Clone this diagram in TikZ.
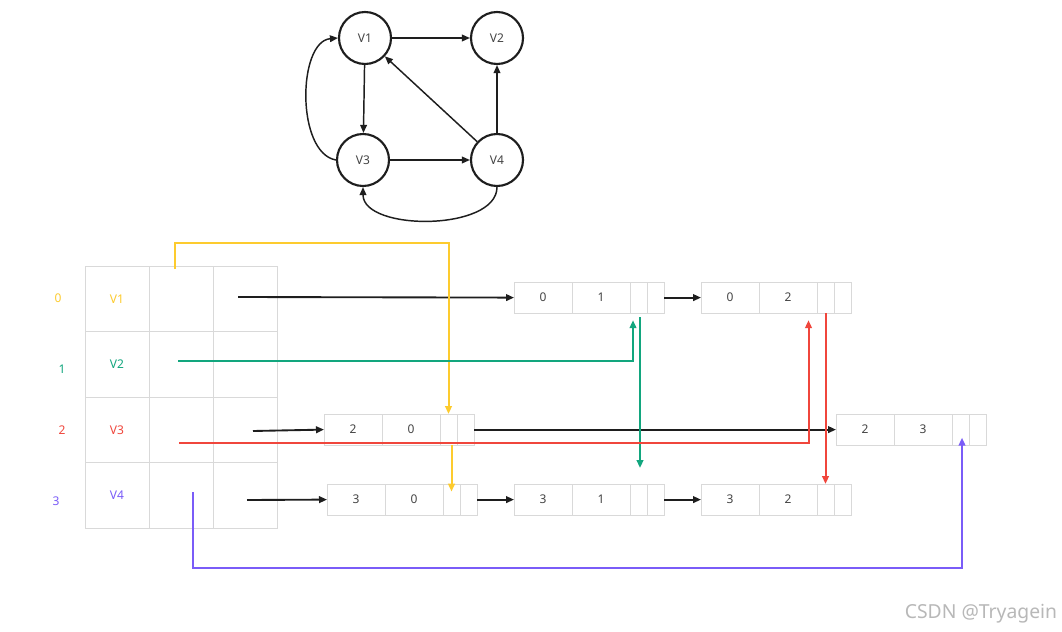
\documentclass[tikz,border=0pt]{standalone}
\usepackage{fontspec}
\setmainfont{Noto Sans}
\usepackage{xcolor}
\definecolor{adjInk}{HTML}{1E1E1E}
\definecolor{adjText}{HTML}{444444}
\definecolor{adjGrid}{HTML}{D9D9D9}
\definecolor{adjYellow}{HTML}{FDCB2E}
\definecolor{adjGreen}{HTML}{12A67E}
\definecolor{adjRed}{HTML}{F0463C}
\definecolor{adjPurple}{HTML}{7A5CF8}
\usetikzlibrary{calc,arrows.meta,positioning}

% one entry of an adjacency list: two data cells and two pointer cells
\newcommand{\adjentry}[5]{%
  \node[lcell, anchor=north west] (#1-a) at (#2,#3) {#4};
  \node[lcell, right=0pt of #1-a] (#1-b) {#5};
  \node[lptr, right=0pt of #1-b] (#1-p) {};
  \node[lptr, right=0pt of #1-p] (#1-q) {};
}

\begin{document}
\begin{tikzpicture}[x=0.75pt, y=-0.75pt,
    vert/.style={circle, draw=adjInk, line width=1.6pt, minimum size=39pt, inner sep=0pt, font=\fontsize{9}{11}\selectfont, text=adjText},
    edge/.style={-{Triangle[length=6pt,width=5pt]}, line width=1.1pt, adjInk},
    tcell/.style={draw=adjGrid, line width=0.7pt, minimum width=48pt, minimum height=49.1pt, inner sep=0pt, outer sep=0pt, font=\fontsize{9}{11}\selectfont, anchor=north west},
    lcell/.style={draw=adjGrid, line width=0.7pt, minimum width=43.5pt, minimum height=23.4pt, inner sep=0pt, outer sep=0pt, font=\fontsize{9}{11}\selectfont, text=adjText},
    lptr/.style={lcell, minimum width=12.75pt},
    idx/.style={font=\fontsize{9}{11}\selectfont, text=#1},
    arr/.style={-{Triangle[length=6pt,width=5pt]}, line width=1.4pt, adjInk},
    link/.style={-{Triangle[length=6pt,width=5pt]}, line width=1.5pt, color=#1}
  ]
    \useasboundingbox[fill=white] (0,0) rectangle (1062,631);

    % the directed graph
    \node[vert] (v1) at (365,38) {V1};
    \node[vert] (v2) at (497,38) {V2};
    \node[vert] (v3) at (363,160) {V3};
    \node[vert] (v4) at (497,160) {V4};
    \draw[edge] (v1) -- (v2);
    \draw[edge] (v1) -- (v3);
    \draw[edge] (v3) -- (v4);
    \draw[edge] (v4) -- (v2);
    \draw[edge] (v4) -- (v1);
    \draw[edge] (v3.west) to[out=170, in=185, looseness=0.85] (v1.west);
    \draw[edge] (v4.south) to[out=-90, in=-90, looseness=0.85] (v3.south);

    % vertex table
    \foreach \r/\lab/\col in {0/V1/adjYellow, 1/V2/adjGreen, 2/V3/adjRed, 3/V4/adjPurple} {
      \node[tcell, text=\col] (t\r0) at (85,{266+65.5*\r}) {\lab};
      \node[tcell] (t\r1) at (149,{266+65.5*\r}) {};
      \node[tcell] (t\r2) at (213,{266+65.5*\r}) {};
    }
    \node[idx=adjYellow] (i0) at (58,298) {0};
    \node[idx=adjGreen] (i1) at (62,369) {1};
    \node[idx=adjRed] (i2) at (62,430) {2};
    \node[idx=adjPurple] (i3) at (56,501) {3};

    % list entries
    \adjentry{la}{514}{282}{0}{1}
    \adjentry{lb}{701}{282}{0}{2}
    \adjentry{lc}{324}{414}{2}{0}
    \adjentry{ld}{836}{414}{2}{3}
    \adjentry{le}{327}{484}{3}{0}
    \adjentry{lf}{514}{484}{3}{1}
    \adjentry{lg}{701}{484}{3}{2}

    % head pointers and next pointers
    \coordinate (h0) at (238,297);
    \coordinate (h2) at (253,431);
    \coordinate (h3) at (247,500);
    \draw[arr] (h0) -- (la-a.west);
    \draw[arr] (la-q.east) -- (lb-a.west);
    \draw[arr] (h2) -- (lc-a.west);
    \draw[arr] (lc-q.east) -- (ld-a.west);
    \draw[arr] (h3) -- (le-a.west);
    \draw[arr] (le-q.east) -- (lf-a.west);
    \draw[arr] (lf-q.east) -- (lg-a.west);

    % cross links
    \coordinate (y0) at (175,269);
    \coordinate (y1) at (175,243);
    \draw[link=adjYellow] (y0) -- (y1) -| (lc-p.north);
    \draw[link=adjYellow, shorten >=6pt] (lc-p.south -| le-p.center) -- (le-p.center);
    \coordinate (g0) at (178,361);
    \draw[link=adjGreen] (g0) -| ($(la-p.south)+(-5.5,7)$);
    \draw[link=adjGreen] ($(la-p.south)+(1.5,4)$) -- ($(lf-p.north)+(1.5,-16)$);
    \coordinate (r0) at (179,443);
    \draw[link=adjRed] (r0) -| ($(lb-b.south)+(20.5,7)$);
    \draw[link=adjRed] (lb-p.south) -- (lb-p.south |- lg-p.north);
    \coordinate (p0) at (193,492);
    \coordinate (p1) at (193,568);
    \draw[link=adjPurple] (p0) -- (p1) -| ($(ld-p.south)+(1.5,-7.5)$);

    \node[font=\fontsize{14.5}{16}\selectfont, text=black!28] (mark) at (981,614) {CSDN @Tryagein};
  \end{tikzpicture}
\end{document}
